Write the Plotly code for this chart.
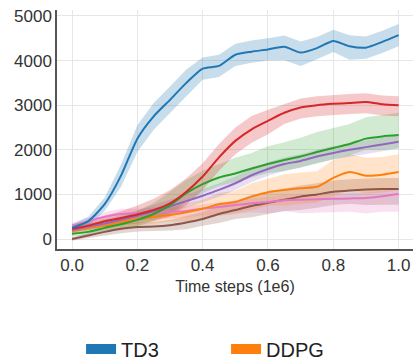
import plotly.graph_objects as go

steps = [0.0, 0.05, 0.1, 0.15, 0.2, 0.25, 0.3, 0.35, 0.4, 0.45, 0.5,
         0.55, 0.6, 0.65, 0.7, 0.75, 0.8, 0.85, 0.9, 0.95, 1.0]

# mean returns per method
td3 = [250, 400, 780, 1420, 2250, 2750, 3120, 3500, 3820, 3880, 4130,
       4200, 4250, 4310, 4180, 4280, 4440, 4320, 4290, 4420, 4570]
ddpg = [180, 250, 300, 380, 450, 500, 540, 600, 680, 780, 830,
        950, 1050, 1100, 1140, 1170, 1370, 1500, 1420, 1440, 1500]
green = [120, 160, 250, 330, 430, 560, 760, 1030, 1230, 1380, 1470,
         1580, 1680, 1770, 1850, 1950, 2040, 2130, 2250, 2300, 2330]
red = [230, 300, 400, 470, 550, 650, 800, 1060, 1400, 1830, 2200,
       2460, 2650, 2830, 2950, 3000, 3030, 3050, 3070, 3020, 3000]
purple = [200, 280, 350, 430, 520, 620, 730, 850, 970, 1100, 1250,
          1430, 1570, 1680, 1750, 1850, 1930, 2000, 2060, 2120, 2180]
brown = [0, 80, 160, 230, 270, 280, 310, 370, 450, 560, 650,
         740, 810, 880, 950, 1000, 1060, 1090, 1110, 1120, 1120]
pink = [300, 400, 500, 560, 580, 600, 610, 630, 680, 720, 760,
        800, 830, 870, 880, 890, 900, 910, 920, 960, 1010]

# band offsets below / above the mean
td3_lo = [80, 100, 150, 250, 300, 300, 300, 300, 250, 250, 250,
          250, 250, 300, 300, 250, 250, 300, 250, 250, 250]
td3_hi = [80, 100, 150, 250, 300, 300, 300, 300, 250, 250, 250,
          250, 250, 250, 250, 250, 250, 250, 250, 250, 250]
ddpg_lo = [80, 100, 100, 120, 150, 150, 150, 200, 200, 250, 250,
           300, 300, 350, 350, 350, 400, 400, 400, 400, 400]
ddpg_hi = [80, 100, 100, 120, 150, 150, 150, 200, 200, 250, 250,
           300, 300, 350, 350, 350, 400, 400, 400, 400, 400]
green_lo = [60, 80, 100, 120, 150, 150, 200, 200, 200, 200, 200,
            200, 200, 250, 250, 250, 250, 250, 250, 300, 300]
green_hi = [60, 80, 100, 150, 200, 250, 300, 300, 300, 300, 350,
            350, 400, 400, 420, 450, 450, 450, 480, 480, 500]
red_lo = [80, 100, 120, 150, 200, 250, 300, 300, 300, 300, 300,
          300, 300, 250, 250, 250, 250, 250, 250, 250, 250]
red_hi = [80, 100, 120, 150, 200, 250, 300, 300, 300, 300, 300,
          300, 250, 200, 200, 200, 200, 200, 200, 200, 200]
purple_lo = [60, 80, 100, 100, 120, 150, 150, 150, 150, 150, 150,
             150, 150, 150, 150, 150, 150, 150, 150, 150, 150]
purple_hi = [60, 80, 100, 100, 120, 150, 150, 150, 150, 150, 150,
             150, 150, 150, 150, 150, 150, 150, 150, 150, 150]
brown_lo = [40, 60, 80, 100, 100, 100, 120, 150, 150, 200, 200,
            250, 250, 250, 300, 300, 300, 300, 350, 350, 350]
brown_hi = [40, 60, 80, 100, 100, 100, 120, 150, 150, 200, 200,
            250, 250, 250, 250, 250, 250, 250, 250, 250, 250]
pink_lo = [60, 80, 100, 120, 150, 150, 150, 150, 150, 200, 200,
           200, 250, 250, 300, 300, 300, 300, 350, 350, 400]
pink_hi = [60, 80, 100, 120, 100, 100, 100, 100, 100, 100, 100,
           100, 120, 120, 120, 120, 120, 120, 120, 120, 120]

x_ticks = [0.0, 0.2, 0.4, 0.6, 0.8, 1.0]
x_tick_text = ["0.0", "0.2", "0.4", "0.6", "0.8", "1.0"]
y_ticks = [0, 1000, 2000, 3000, 4000, 5000]
y_tick_text = ["0", "1000", "2000", "3000", "4000", "5000"]

series = [
    ("Brown", brown, brown_lo, brown_hi, "#8c564b", "rgba(140,86,75,0.25)"),
    ("Pink", pink, pink_lo, pink_hi, "#e377c2", "rgba(227,119,194,0.22)"),
    ("DDPG", ddpg, ddpg_lo, ddpg_hi, "#ff7f0e", "rgba(255,127,14,0.22)"),
    ("Purple", purple, purple_lo, purple_hi, "#9467bd", "rgba(148,103,189,0.22)"),
    ("Green", green, green_lo, green_hi, "#2ca02c", "rgba(44,160,44,0.22)"),
    ("Red", red, red_lo, red_hi, "#d62728", "rgba(214,39,40,0.25)"),
    ("TD3", td3, td3_lo, td3_hi, "#1f77b4", "rgba(31,119,180,0.25)"),
]

fig = go.Figure()
for name, m, lo, hi, col, fcol in series:
    upper = [a + b for a, b in zip(m, hi)]
    lower = [a - b for a, b in zip(m, lo)]
    fig.add_trace(go.Scatter(x=steps + steps[::-1], y=upper + lower[::-1],
                             fill="toself", fillcolor=fcol, line=dict(width=0),
                             mode="lines", hoverinfo="skip", showlegend=False))
for name, m, lo, hi, col, fcol in series:
    fig.add_trace(go.Scatter(x=steps, y=m, mode="lines", name=name,
                             line=dict(color=col, width=2, shape="spline", smoothing=0.6),
                             showlegend=False))

# legend entries (visible part)
for name, col in [("TD3", "#1f77b4"), ("DDPG", "#ff7f0e")]:
    fig.add_trace(go.Scatter(x=[None], y=[None], mode="lines", name=name,
                             line=dict(color=col, width=10), showlegend=True))

fig.update_layout(
    width=420, height=362,
    margin=dict(l=57, r=7, t=10, b=113, autoexpand=False),
    paper_bgcolor="white", plot_bgcolor="white",
    font=dict(family="Liberation Sans, Arial, sans-serif", color="#333333", size=17),
    showlegend=True,
    legend=dict(orientation="h", xref="container", yref="container",
                x=0.193, xanchor="left", y=0.036, yanchor="middle",
                font=dict(size=20, color="#222222"), entrywidth=100,
                itemwidth=30, bgcolor="rgba(0,0,0,0)"),
    xaxis=dict(range=[-0.046, 1.044], tickvals=x_ticks, ticktext=x_tick_text,
               showgrid=True, gridcolor="#e6e6e6", gridwidth=1, zeroline=False,
               showline=True, linecolor="#555555", linewidth=1.5, ticks="",
               automargin=False,
               title=dict(text="Time steps (1e6)", font=dict(size=16), standoff=7)),
    yaxis=dict(range=[-224, 5134], tickvals=y_ticks, ticktext=y_tick_text,
               showgrid=True, gridcolor="#e6e6e6", gridwidth=1, zeroline=False,
               showline=True, linecolor="#555555", linewidth=1.5, ticks="",
               automargin=False),
)

fig.write_html("out.html", config={"displayModeBar": False},
               post_script="document.body.style.margin='0px';document.body.style.overflow='hidden';")
